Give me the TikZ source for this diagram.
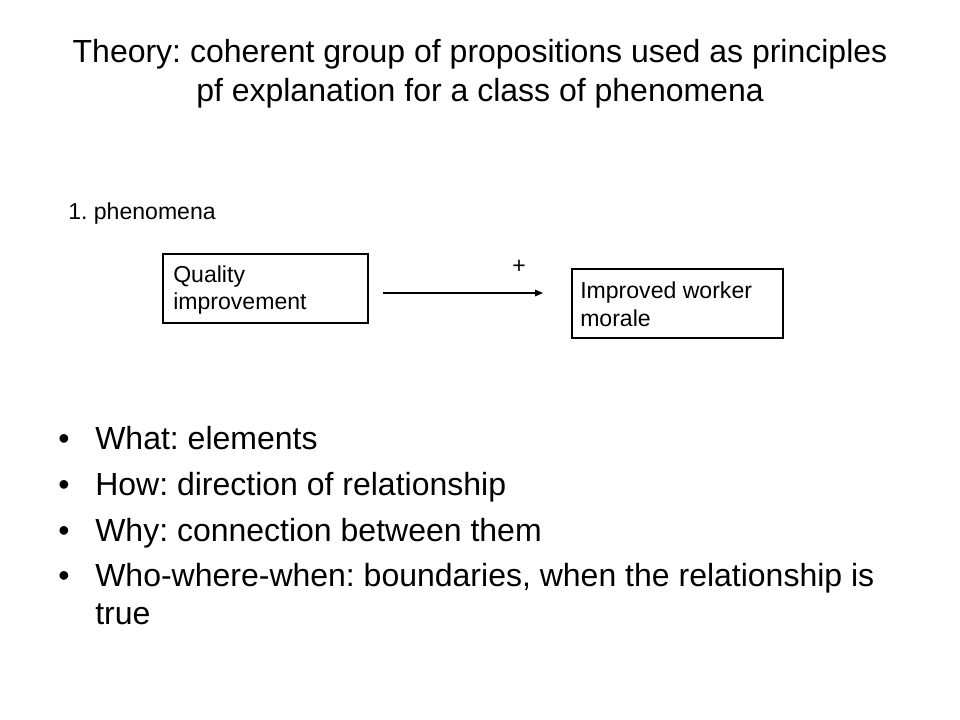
\documentclass[tikz,border=0pt]{standalone}
\usepackage{fontspec}
\setmainfont{Liberation Sans}
\usetikzlibrary{arrows.meta}
\begin{document}
\frenchspacing
\begin{tikzpicture}[x=0.75pt,y=-0.75pt,
  titletext/.style={font=\fontsize{24}{28}\selectfont, anchor=base, inner sep=0pt},
  bullettext/.style={font=\fontsize{24}{28}\selectfont, anchor=base west, inner sep=0pt},
  boxtext/.style={font=\fontsize{17.3}{20}\selectfont, anchor=base west, inner sep=0pt},
  box/.style={draw=black, line width=0.8pt, inner sep=0pt},
  smalltext/.style={font=\fontsize{17.3}{20}\selectfont, anchor=base west, inner sep=0pt}]
\useasboundingbox[fill=white] (0,0) rectangle (960,720);
\node[titletext] (t1) at (480,63) {Theory: coherent group of propositions used as principles};
\node[titletext] (t2) at (480,102) {pf explanation for a class of phenomena};
\node[smalltext] (ph) at (68,220) {1. phenomena};
\node[box, minimum width=205*0.75pt, minimum height=69*0.75pt] (qa) at (265.5,288.5) {};
\node[boxtext] (q1) at (173,282) {Quality};
\node[boxtext] (q2) at (173,310) {improvement};
\node[box, minimum width=211*0.75pt, minimum height=69*0.75pt] (mb) at (677.5,303.5) {};
\node[boxtext] (m1) at (580,298) {Improved worker};
\node[boxtext] (m2) at (580,326) {morale};
\coordinate (as) at (383,293);
\coordinate (ae) at (543,293);
\draw[line width=0.8pt, -{Triangle[length=6pt,width=5pt]}] (as) -- (ae);
\node[font=\fontsize{17.3}{20}\selectfont, inner sep=0pt] (plus) at (519,267) {+};
\foreach \y/\txt [count=\i] in {449/{What: elements},495/{How: direction of relationship},541/{Why: connection between them},586/{Who-where-when: boundaries, when the relationship is}} {
  \node[bullettext] (b\i) at (95,\y) {\txt};
  \node[bullettext, anchor=base] (d\i) at (64,\y) {\textbullet};
}
\node[bullettext] (b5) at (95,624) {true};
\end{tikzpicture}
\end{document}
